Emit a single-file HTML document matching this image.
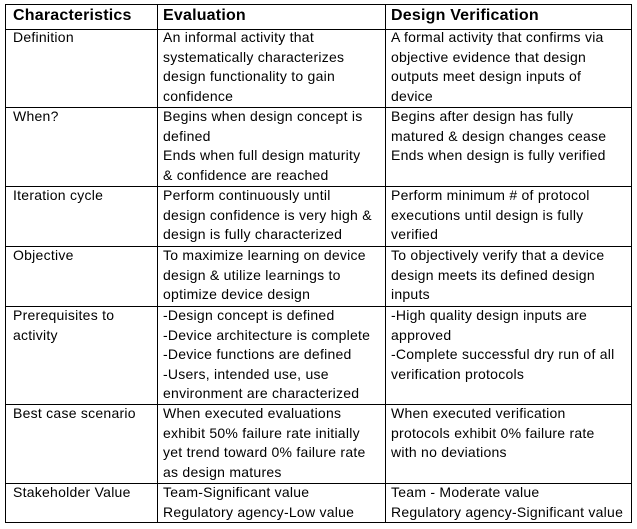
<!DOCTYPE html>
<html><head><style>
body{margin:0;width:637px;height:529px;background:#fff;position:relative;overflow:hidden;font-family:"Liberation Sans",sans-serif;color:#000}
.h{position:absolute;height:1px;background:#000;left:5px;width:627px}
.v{position:absolute;width:1px;background:#000;top:4px;height:519px}
.t{position:absolute;font-size:14px;letter-spacing:0.25px;line-height:19.6px;white-space:nowrap}
.b{position:absolute;font-size:16px;font-weight:bold;white-space:nowrap;top:7px;letter-spacing:0.2px}
</style></head><body>
<div class="h" style="top:4px"></div><div class="h" style="top:29px"></div><div class="h" style="top:107px"></div><div class="h" style="top:186px"></div><div class="h" style="top:246px"></div><div class="h" style="top:306px"></div><div class="h" style="top:404px"></div><div class="h" style="top:483px"></div><div class="h" style="top:522px"></div>
<div class="v" style="left:5px"></div><div class="v" style="left:157px"></div><div class="v" style="left:385px"></div><div class="v" style="left:631px"></div>
<div class="b" style="left:13px">Characteristics</div><div class="b" style="left:163px">Evaluation</div><div class="b" style="left:391px">Design Verification</div>

<div class="t" style="left:13px;top:28px">Definition</div>
<div class="t" style="left:163px;top:28px">An informal activity that<br>systematically characterizes<br>design functionality to gain<br>confidence</div>
<div class="t" style="left:391px;top:28px">A formal activity that confirms via<br>objective evidence that design<br>outputs meet design inputs of<br>device</div>

<div class="t" style="left:13px;top:107px">When?</div>
<div class="t" style="left:163px;top:107px">Begins when design concept is<br>defined<br>Ends when full design maturity<br>&amp; confidence are reached</div>
<div class="t" style="left:391px;top:107px">Begins after design has fully<br>matured &amp; design changes cease<br>Ends when design is fully verified</div>

<div class="t" style="left:13px;top:186px">Iteration cycle</div>
<div class="t" style="left:163px;top:186px">Perform continuously until<br>design confidence is very high &amp;<br>design is fully characterized</div>
<div class="t" style="left:391px;top:186px">Perform minimum # of protocol<br>executions until design is fully<br>verified</div>

<div class="t" style="left:13px;top:246px">Objective</div>
<div class="t" style="left:163px;top:246px">To maximize learning on device<br>design &amp; utilize learnings to<br>optimize device design</div>
<div class="t" style="left:391px;top:246px">To objectively verify that a device<br>design meets its defined design<br>inputs</div>

<div class="t" style="left:13px;top:306px">Prerequisites to<br>activity</div>
<div class="t" style="left:163px;top:306px">-Design concept is defined<br>-Device architecture is complete<br>-Device functions are defined<br>-Users, intended use, use<br>environment are characterized</div>
<div class="t" style="left:391px;top:306px">-High quality design inputs are<br>approved<br>-Complete successful dry run of all<br>verification protocols</div>

<div class="t" style="left:13px;top:404px">Best case scenario</div>
<div class="t" style="left:163px;top:404px">When executed evaluations<br>exhibit 50% failure rate initially<br>yet trend toward 0% failure rate<br>as design matures</div>
<div class="t" style="left:391px;top:404px">When executed verification<br>protocols exhibit 0% failure rate<br>with no deviations</div>

<div class="t" style="left:13px;top:483px">Stakeholder Value</div>
<div class="t" style="left:163px;top:483px">Team-Significant value<br>Regulatory agency-Low value</div>
<div class="t" style="left:391px;top:483px">Team - Moderate value<br>Regulatory agency-Significant value</div>
</body></html>
